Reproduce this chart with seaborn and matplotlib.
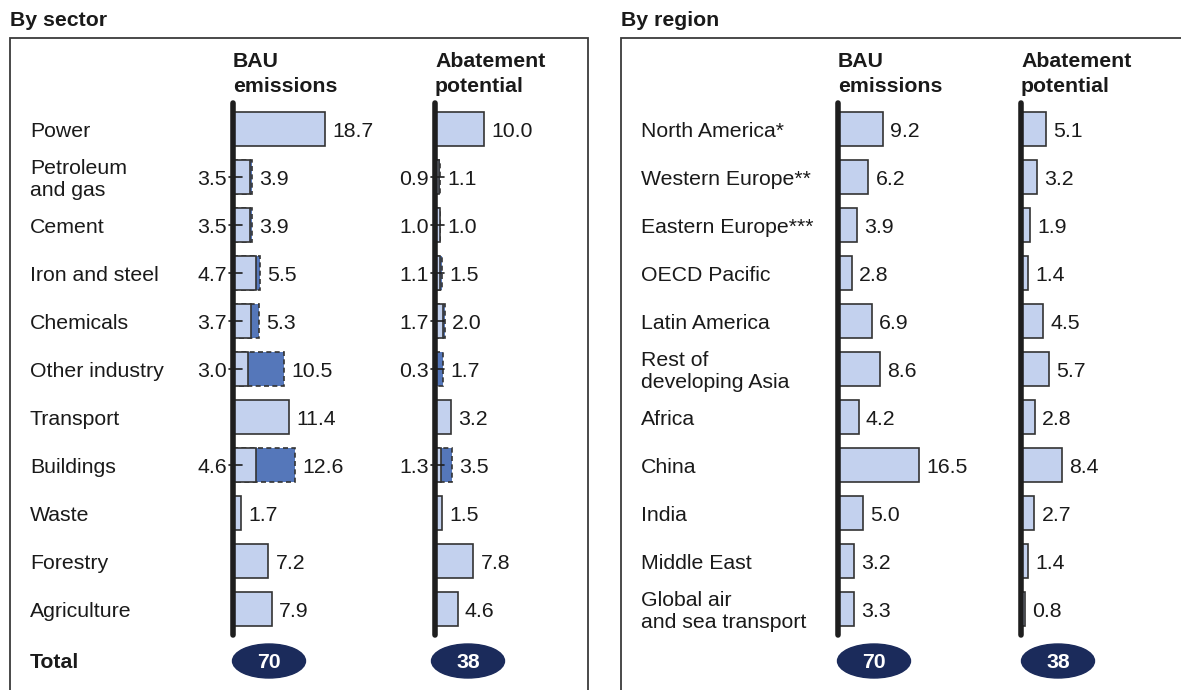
import numpy as np
import pandas as pd
import seaborn as sns
import matplotlib.pyplot as plt
from matplotlib import transforms
from matplotlib.colors import to_rgba
from matplotlib.patches import Rectangle, Ellipse

# data (GtCO2e)
sectors = ["Power", "Petroleum\nand gas", "Cement", "Iron and steel", "Chemicals",
           "Other industry", "Transport", "Buildings", "Waste", "Forestry", "Agriculture"]
sector_bau = [18.7, 3.9, 3.9, 5.5, 5.3, 10.5, 11.4, 12.6, 1.7, 7.2, 7.9]
sector_bau_direct = [None, 3.5, 3.5, 4.7, 3.7, 3.0, None, 4.6, None, None, None]
sector_abate = [10.0, 1.1, 1.0, 1.5, 2.0, 1.7, 3.2, 3.5, 1.5, 7.8, 4.6]
sector_abate_direct = [None, 0.9, 1.0, 1.1, 1.7, 0.3, None, 1.3, None, None, None]

regions = ["North America*", "Western Europe**", "Eastern Europe***", "OECD Pacific",
           "Latin America", "Rest of\ndeveloping Asia", "Africa", "China", "India",
           "Middle East", "Global air\nand sea transport"]
region_bau = [9.2, 6.2, 3.9, 2.8, 6.9, 8.6, 4.2, 16.5, 5.0, 3.2, 3.3]
region_abate = [5.1, 3.2, 1.9, 1.4, 4.5, 5.7, 2.8, 8.4, 2.7, 1.4, 0.8]

bau_total = 70
abate_total = 38

LIGHT = "#c3d1ee"
DARK = "#5577ba"
EDGE = "#333333"
AXIS = "#1e1e1e"
NAVY = "#1b2b5b"
TXT = "#1a1a1a"
FS = 15.3

W, H = 1181, 690
PX_PER_UNIT = 4.9
AX_TOP, AX_BOT = 105, 633
DY = 0.05  # small downward nudge of text, in rows

sns.set_style("white")
plt.rcParams["font.family"] = ["Liberation Sans", "DejaVu Sans"]

fig = plt.figure(figsize=(W / 100, H / 100), dpi=100)


def fx(x):
    return x / W


def fy(y):
    return 1 - y / H


def draw_column(left_px, cats, totals, directs, label_x=None):
    span = 30
    ax = fig.add_axes([fx(left_px), fy(AX_BOT), span * PX_PER_UNIT / W, (AX_BOT - AX_TOP) / H])
    df = pd.DataFrame({"cat": cats, "total": totals,
                       "direct": directs if directs is not None else [None] * len(cats)})
    df["direct"] = df["direct"].astype(float)
    df["kind"] = np.where(df["direct"].notna(), "split", "whole")
    sns.barplot(data=df, x="total", y="cat", hue="kind", order=cats,
                hue_order=["whole", "split"], palette={"whole": LIGHT, "split": DARK},
                dodge=False, width=0.7, saturation=1, edgecolor=EDGE, linewidth=1.2,
                errorbar=None, legend=False, ax=ax)
    for p in ax.patches:
        if np.allclose(p.get_facecolor(), to_rgba(DARK)):
            p.set_linestyle((0, (3, 2)))
    split = df[df["kind"] == "split"]
    if len(split):
        sns.barplot(data=split, x="direct", y="cat", order=cats, color=LIGHT,
                    saturation=1, width=0.7, edgecolor=EDGE, linewidth=1.2,
                    errorbar=None, ax=ax)
    n = len(cats)
    ax.set_xlim(0, span)
    ax.set_ylim(n - 0.5, -0.5)
    ax.axis("off")
    ax.plot([0, 0], [-0.55, n - 0.45], color=AXIS, lw=4, solid_capstyle="round",
            clip_on=False, zorder=5)
    for i, row in df.iterrows():
        ax.text(row["total"] + 1.5, i + DY, f"{row['total']:.1f}", ha="left", va="center",
                fontsize=FS, color=TXT)
        if row["kind"] == "split":
            ax.text(-1.2, i + DY, f"{row['direct']:.1f}", ha="right", va="center",
                    fontsize=FS, color=TXT, clip_on=False)
            ax.plot([-0.8, 1.8], [i, i], color=AXIS, lw=1.2, clip_on=False, zorder=6)
    if label_x is not None:
        trans = transforms.blended_transform_factory(fig.transFigure, ax.transData)
        for i, c in enumerate(cats):
            ax.text(fx(label_x), i + DY, c, transform=trans, ha="left", va="center",
                    fontsize=FS, color=TXT, linespacing=1.2, clip_on=False)
    return ax


def panel(x0, x1, title, label_x, bau_x, abate_x):
    fig.add_artist(Rectangle((fx(x0), fy(700)), (x1 - x0) / W, 662 / H, fill=False,
                             ec="#3a3a3a", lw=1.3, transform=fig.transFigure, clip_on=False))
    fig.text(fx(x0), fy(21), title, fontsize=FS, fontweight="bold", color=TXT,
             ha="left", va="center")
    for x, head in [(bau_x, "BAU\nemissions"), (abate_x, "Abatement\npotential")]:
        fig.text(fx(x), fy(74), head, fontsize=FS, fontweight="bold", color=TXT,
                 ha="left", va="center", linespacing=1.35)


panel(10, 588, "By sector", 30, 233, 435)
panel(621, 1195, "By region", 641, 838, 1021)

draw_column(233, sectors, sector_bau, sector_bau_direct, label_x=30)
draw_column(435, sectors, sector_abate, sector_abate_direct)
draw_column(838, regions, region_bau, None, label_x=641)
draw_column(1021, regions, region_abate, None)

# totals row
fig.text(fx(30), fy(662), "Total", fontsize=FS, fontweight="bold", color=TXT,
         ha="left", va="center")
for cx, val in [(269, bau_total), (468, abate_total), (874, bau_total), (1058, abate_total)]:
    fig.add_artist(Ellipse((fx(cx), fy(661)), 73 / W, 34 / H, color=NAVY,
                           transform=fig.transFigure))
    fig.text(fx(cx), fy(663), str(val), fontsize=FS, fontweight="bold", color="white",
             ha="center", va="center")

fig.savefig("out.png", dpi=100)
